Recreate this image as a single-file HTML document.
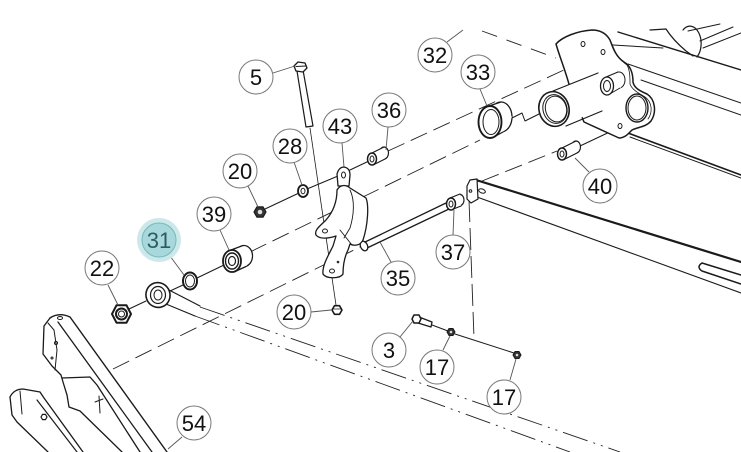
<!DOCTYPE html>
<html><head><meta charset="utf-8"><style>
html,body{margin:0;padding:0;background:#fff;}
svg{display:block}
text{font-family:"Liberation Sans",Arial,sans-serif;font-size:22px;fill:#111;text-anchor:middle}
</style></head><body>
<svg width="741" height="452" viewBox="0 0 741 452" xmlns="http://www.w3.org/2000/svg">
<rect width="741" height="452" fill="#fff"/>

<!-- dashed centre lines -->
<g fill="none" stroke="#222" stroke-width="0.9" stroke-dasharray="18 7">
  <path d="M388,151 L603,52"/>
  <path d="M250,252 L480,140"/>
  <path d="M545,112 L605,85"/>
  <path d="M113,369 L362,246"/>
  <path d="M482,181 L557,151"/>
  <path d="M469,200 L474,338" stroke-dasharray="22 6"/>
  <path d="M482,31 L556,58" stroke-dasharray="16 10"/>
</g>
<!-- phantom lines -->
<g fill="none" stroke="#222" stroke-width="0.9" stroke-dasharray="26 6 2 6 2 6">
  <path d="M200,307 L620,452"/>
  <path d="M195,316 L570,452"/>
</g>

<g fill="none" stroke="#1a1a1a" stroke-width="1" stroke-linecap="round" stroke-linejoin="round">
  <!-- solid assembly lines -->
  <path d="M265,209 L299,193 M307,189 L338,176 M350,170 L369,161"/>
  <path d="M129,309 L146,301 M170,291 L183,285 M197,278 L224,265"/>
  <path d="M310,128 L336,305" stroke-width="0.8"/>
  <path d="M432,325 L448,331 M455,334 L514,353"/>
  <path d="M580,146 L616,129"/>
  <path d="M512,118 L522,113 L525,121 L543,112"/>

  <!-- frame lines right of plate -->
  <path d="M618,32 L741,70" stroke-width="1.4"/>
  <path d="M628,64 L741,103"/>
  <path d="M641,80 L741,115"/>
  <path d="M628,133 L741,175" stroke-width="1.6"/>
  <path d="M630,137 L741,178"/>
  <path d="M613,45 L663,48"/>
  <path d="M650,30 L666,29 Q673,40 686,51 L693,56" stroke-width="1.2"/>
  <path d="M683,30 A9,14 0 0 1 697,57" stroke-width="1.2"/>
  <path d="M700,41 L733,27 M703,48 L741,33 M688,31 L720,24"/>

  <!-- plate -->
  <path d="M556,44 C562,37 577,31 592,30 C600,30 606,33 610,40 C613,48 616,57 624,62 C631,66 633,74 633,82 C634,88 640,91 647,94 C655,99 657,112 651,121 C646,127 638,127 632,130 C628,134 625,138 619,138 L584,122 L570,88 C566,72 560,58 556,44 Z" fill="#fff" stroke-width="1.5"/>
  <path d="M612,44 C615,54 620,60 627,65 C630,70 630,78 630,84 C632,90 640,94 645,97 C652,102 653,112 648,119" stroke-width="0.8"/>
  <ellipse cx="583" cy="44" rx="2" ry="2.5"/>
  <ellipse cx="603" cy="52" rx="2" ry="2.5"/>
  <ellipse cx="620" cy="126" rx="2" ry="2.5"/>
  <ellipse cx="637" cy="108" rx="11" ry="14" stroke-width="1.4"/>
  <ellipse cx="637" cy="108" rx="9" ry="12"/>

  <!-- tube -->
  <path d="M553,91 L598,73 L606,104 L566,126 Z" fill="#fff" stroke="none"/>
  <path d="M553,91 L598,73 M566,126 L602,111" stroke-width="1.2"/>
  <ellipse cx="554" cy="109" rx="15" ry="17.5" fill="#fff" stroke-width="1.6" transform="rotate(-15 554 109)"/>
  <ellipse cx="555" cy="109" rx="12" ry="14.5" transform="rotate(-15 555 109)"/>
  <ellipse cx="556" cy="109" rx="10.5" ry="13" transform="rotate(-15 556 109)"/>
  <!-- boss -->
  <ellipse cx="619" cy="80" rx="6" ry="8" fill="#fff"/>
  <path d="M606,77 L618,72 L621,88 L608,95 Z" fill="#fff" stroke="none"/>
  <path d="M606,77 L618,72 M608,95 L620,88"/>
  <ellipse cx="607" cy="86" rx="6.5" ry="9" fill="#fff" stroke-width="1.3"/>
  <ellipse cx="607" cy="86" rx="3.5" ry="5.5"/>

  <!-- bushing 33 -->
  <ellipse cx="501" cy="117" rx="11" ry="15" fill="#fff" stroke-width="1.3"/>
  <path d="M489,106 L501,102 L512,117 L503,132 L492,138 Z" fill="#fff" stroke="none"/>
  <path d="M489,106 L501,102 M492,138 L503,132" stroke-width="1.2"/>
  <ellipse cx="490" cy="122" rx="11.5" ry="16" fill="#fff" stroke-width="1.9"/>
  <ellipse cx="491" cy="122" rx="8" ry="12.5"/>

  <!-- spacer 36 -->
  <ellipse cx="384" cy="153" rx="4.5" ry="6" fill="#fff" stroke-width="1.2"/>
  <path d="M372,153 L384,147 L385,159 L373,165 Z" fill="#fff" stroke="none"/>
  <path d="M372,153 L384,147 M373,165 L385,159" stroke-width="1.2"/>
  <ellipse cx="372" cy="159" rx="4.5" ry="6" fill="#fff" stroke-width="1.5"/>
  <ellipse cx="372" cy="159" rx="2" ry="3"/>

  <!-- spacer 40 -->
  <ellipse cx="576" cy="147" rx="4.5" ry="6" fill="#fff" stroke-width="1.2"/>
  <path d="M562,148 L576,141 L577,153 L563,160 Z" fill="#fff" stroke="none"/>
  <path d="M562,148 L576,141 M563,160 L577,153" stroke-width="1.2"/>
  <ellipse cx="562" cy="154" rx="4.5" ry="6" fill="#fff" stroke-width="1.5"/>
  <ellipse cx="562" cy="154" rx="2" ry="3"/>

  <!-- frame bar -->
  <path d="M476,180 L741,262" stroke-width="2.2"/>
  <path d="M477,197 L741,293" stroke-width="1.1"/>
  <path d="M702,263 L741,275 M702,271 L741,284 M702,263 Q696,267 702,271" stroke-width="1.5"/>
  <path d="M467,186 L470,180 L477,179 L478,199 L471,203 L467,199 Z" fill="#fff" stroke-width="1.2"/>
  <circle cx="470.5" cy="191" r="1.3"/>
  <ellipse cx="482" cy="191" rx="3.5" ry="2" transform="rotate(20 482 191)"/>

  <!-- rod 35 -->
  <path d="M365,249 L449,209 M363,243 L446,203" stroke-width="1.3"/>
  <ellipse cx="364" cy="246" rx="3.5" ry="5" fill="#fff" stroke-width="1.3" transform="rotate(-25 364 246)"/>
  <!-- spacer 37 -->
  <ellipse cx="460" cy="200" rx="4" ry="5.5" fill="#fff" stroke-width="1.2"/>
  <path d="M450,198 L460,194 L461,206 L451,210 Z" fill="#fff" stroke="none"/>
  <path d="M450,198 L460,194 M451,210 L461,206" stroke-width="1.2"/>
  <ellipse cx="451" cy="204" rx="4.5" ry="6" fill="#fff" stroke-width="1.5"/>
  <ellipse cx="451" cy="204" rx="2" ry="3"/>

  <!-- bracket 43 -->
  <path d="M338,186 L337,174 Q339,167 344,167 Q350,168 350,175 L349,186 Z" fill="#fff" stroke-width="1.3"/>
  <ellipse cx="343.5" cy="175" rx="2" ry="3"/>
  <path d="M337,190 C340,185 345,184 350,188 L366,198 C369,205 368,225 363,240 C360,246 354,246 350,244 L348,250 C344,258 343,266 343,274 C340,279 326,279 323,274 C322,266 328,256 333,246 L336,236 C330,238 320,240 316,235 C314,230 320,226 326,220 C333,212 337,202 337,190 Z" fill="#fff" stroke-width="1.3"/>
  <path d="M350,190 C355,200 354,215 350,228 L344,238" stroke-width="0.9"/>
  <path d="M340,230 L352,245" stroke-width="0.9"/>
  <ellipse cx="325" cy="231" rx="2.5" ry="2"/>
  <ellipse cx="332" cy="271" rx="2.5" ry="2"/>
  <circle cx="338" cy="262" r="0.8"/>

  <!-- bolt 5 -->
  <path d="M297,71 L306,127 L313,126 L303,70" fill="#fff" stroke-width="1.2"/>
  <path d="M294,66 L298,62 L305,63 L307,68 L303,72 L296,71 Z" fill="#fff" stroke-width="1.3"/>
  <path d="M296,66.5 L306,66"/>

  <!-- washer 28 -->
  <ellipse cx="303" cy="191" rx="5" ry="6" fill="#fff" stroke-width="1.8"/>
  <ellipse cx="303" cy="191" rx="2" ry="2.8"/>

  <!-- nut 20 top -->
  <polygon points="266,212 263,217.2 257,217.2 254,212 257,206.8 263,206.8" fill="#333" stroke-width="1.2"/>
  <circle cx="260" cy="212" r="2.3" fill="#ddd" stroke="none"/>
  <!-- nut 20 bottom -->
  <polygon points="342,310 339.5,314.3 334.5,314.3 332,310 334.5,305.7 339.5,305.7" fill="#fff" stroke-width="1.6"/>
  <path d="M333,309 L341,309" stroke-width="0.8"/>

  <!-- nut 22 -->
  <polygon points="131,314 126.5,322.7 116.5,322.7 112,314 116.5,305.3 126.5,305.3" fill="#fff" stroke-width="2"/>
  <circle cx="121.5" cy="314" r="5.5" stroke-width="2"/>
  <circle cx="121.5" cy="314" r="3" stroke-width="1"/>

  <!-- rod end -->
  <path d="M169,290 L200,306 M166,304 L195,316" stroke-width="1.2"/>
  <ellipse cx="158" cy="295" rx="12" ry="12.5" fill="#fff" stroke-width="1.6" transform="rotate(-20 158 295)"/>
  <ellipse cx="158" cy="295" rx="7.5" ry="8.5" stroke-width="1.2"/>
  <ellipse cx="158" cy="295" rx="4" ry="5"/>

  <!-- washer 31 -->
  <ellipse cx="190" cy="281" rx="7" ry="8.5" fill="#fff" stroke-width="2"/>
  <ellipse cx="190" cy="281" rx="4.5" ry="6"/>

  <!-- bearing 39 -->
  <ellipse cx="244" cy="256" rx="8.5" ry="10.5" fill="#fff" stroke-width="1.3"/>
  <path d="M231,250 L243,245.5 L252,256 L246,266.5 L234,272 Z" fill="#fff" stroke="none"/>
  <path d="M231,250 L243,245.5 M234,272 L246,266.5" stroke-width="1.3"/>
  <ellipse cx="232" cy="261" rx="9" ry="11" fill="#fff" stroke-width="1.8"/>
  <ellipse cx="232" cy="261" rx="6.5" ry="8" stroke-width="1.4"/>
  <ellipse cx="232" cy="261" rx="3.5" ry="4.5" stroke-width="1.2"/>

  <!-- bolt 3 and nuts 17 -->
  <path d="M419,317 L432,322 L431,327 L418,323" fill="#fff" stroke-width="1.3"/>
  <polygon points="412,319 414,315 419,315 421,319 419,323 414,323" fill="#fff" stroke-width="1.5"/>
  <polygon points="455,332 453,335.5 449,335.5 447,332 449,328.5 453,328.5" fill="#333" stroke-width="1"/>
  <circle cx="451" cy="332" r="1.3" fill="#ddd" stroke="none"/>
  <polygon points="521,355 519,358.5 515,358.5 513,355 515,351.5 519,351.5" fill="#333" stroke-width="1"/>
  <circle cx="517" cy="355" r="1.3" fill="#ddd" stroke="none"/>

  <!-- arm 54 front -->
  <path d="M50,318 Q59,312 70,317 L167,452" stroke-width="1.4"/>
  <path d="M50,318 L44,326 L43,354 L52,366 L61,375 L63,382 L67,395 L69,407 L80,411 L122,452" stroke-width="1.3"/>
  <path d="M58,322 L152,452" stroke-width="1.3"/>
  <path d="M62,378 L90,377 L97,385 L140,452" stroke-width="1.3"/>
  <path d="M48,323 L54,330 L57,350 L55,370"/>
  <ellipse cx="60" cy="318" rx="2.5" ry="1.5"/>
  <circle cx="56" cy="343" r="1.5"/>
  <circle cx="52" cy="358" r="1"/>
  <path d="M95,402 L103,399 M99,396 L100,413"/>
  <!-- arm back -->
  <path d="M10,397 Q14,389 23,389 L40,392 L44,398 L83,452" stroke-width="1.3"/>
  <path d="M10,397 L12,415 L17,422 L48,452" stroke-width="1.3"/>
  <path d="M37,400 L77,452" stroke-width="1.2"/>
  <path d="M20,391 L22,414"/>
  <polygon points="47,417 45.5,419.6 42.5,419.6 41,417 42.5,414.4 45.5,414.4" fill="#fff" stroke-width="1.2"/>
</g>

<!-- leaders -->
<g stroke="#555" stroke-width="0.9" fill="none">
  <path d="M273,73 L295,66"/>
  <path d="M447,42 L463,30"/>
  <path d="M480,89 L487,106"/>
  <path d="M388,127 L386,150"/>
  <path d="M342,143 L344,167"/>
  <path d="M294,162 L302,185"/>
  <path d="M248,186 L258,207"/>
  <path d="M220,230 L229,250"/>
  <path d="M170,256 L184,275"/>
  <path d="M108,285 L118,305"/>
  <path d="M589,172 L575,158"/>
  <path d="M453,235 L454,210"/>
  <path d="M391,262 L380,242"/>
  <path d="M311,312 L331,310"/>
  <path d="M400,337 L413,321"/>
  <path d="M443,350 L450,336"/>
  <path d="M510,380 L516,359"/>
  <path d="M182,437 L168,449"/>
</g>

<!-- balloons -->
<g fill="#fff" stroke="#777" stroke-width="1">
  <circle cx="256" cy="77" r="17"/>
  <circle cx="435" cy="55" r="17"/>
  <circle cx="478" cy="72" r="17"/>
  <circle cx="389" cy="110" r="17"/>
  <circle cx="340" cy="126" r="17"/>
  <circle cx="290" cy="146" r="17"/>
  <circle cx="240" cy="171" r="17"/>
  <circle cx="214" cy="214" r="17"/>
  <circle cx="102" cy="268" r="17"/>
  <circle cx="600" cy="186" r="17"/>
  <circle cx="453" cy="252" r="17"/>
  <circle cx="398" cy="278" r="17"/>
  <circle cx="294" cy="312" r="17"/>
  <circle cx="389" cy="350" r="17"/>
  <circle cx="437" cy="367" r="17"/>
  <circle cx="504" cy="397" r="17"/>
  <circle cx="194" cy="423" r="17"/>
</g>
<circle cx="159" cy="240" r="22" fill="#cbe8ea"/>
<circle cx="159" cy="240" r="17" fill="#a6d8dc" stroke="#7db5bb" stroke-width="1"/>

<text x="256" y="85">5</text>
<text x="435" y="63">32</text>
<text x="478" y="80">33</text>
<text x="389" y="118">36</text>
<text x="340" y="134">43</text>
<text x="290" y="154">28</text>
<text x="240" y="179">20</text>
<text x="214" y="222">39</text>
<text x="159" y="248" style="fill:#2f5a60">31</text>
<text x="102" y="276">22</text>
<text x="600" y="194">40</text>
<text x="453" y="260">37</text>
<text x="398" y="286">35</text>
<text x="294" y="320">20</text>
<text x="389" y="358">3</text>
<text x="437" y="375">17</text>
<text x="504" y="405">17</text>
<text x="194" y="431">54</text>
</svg>
</body></html>
